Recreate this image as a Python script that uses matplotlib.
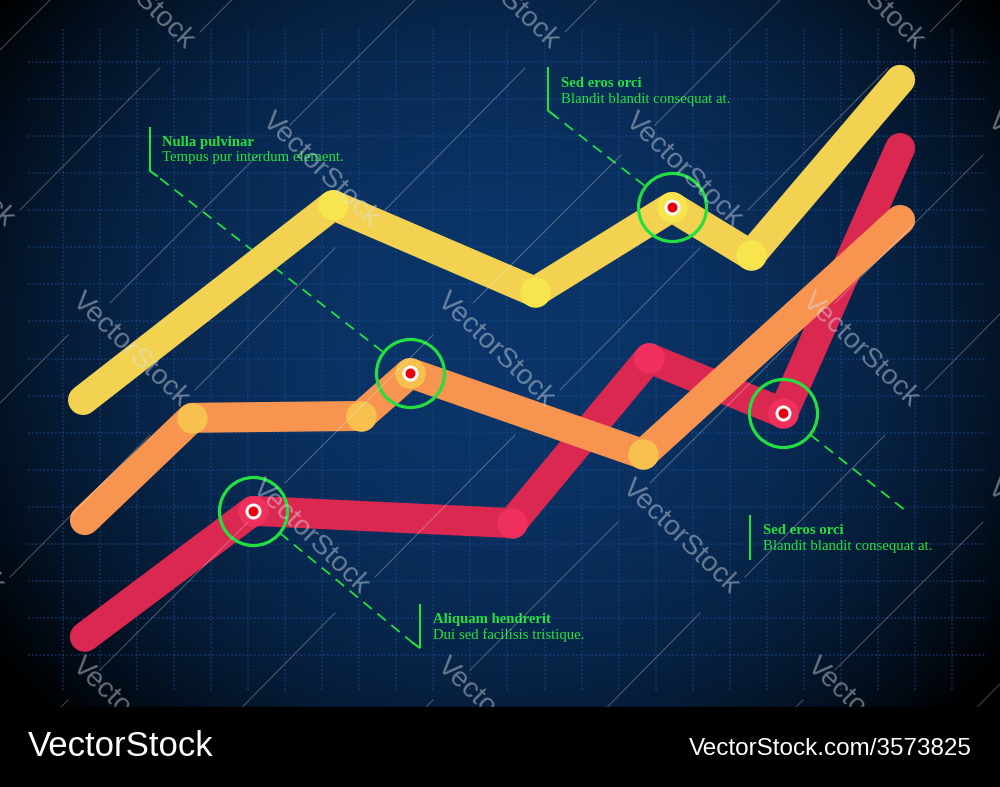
import numpy as np
import matplotlib
matplotlib.use("Agg")
import matplotlib.pyplot as plt
from matplotlib.transforms import Affine2D
from matplotlib.patches import Rectangle

W, H = 1000, 787
# grid calibration in pixels: column 0 / row 0 position and spacing
X0, DX = 63, 37.04
Y0, DY = 655, 37.06

# --- data (grid units) ---
yellow_x = [0.54, 7.29, 12.74, 16.44, 18.57, 22.60]
yellow_y = [6.88, 12.14, 9.80, 12.09, 10.79, 15.52]
orange_x = [0.59, 3.48, 8.05, 9.37, 15.66, 22.60]
orange_y = [3.64, 6.40, 6.45, 7.61, 5.42, 11.74]
red_x = [0.59, 5.13, 12.12, 15.82, 19.44, 22.60]
red_y = [0.49, 3.89, 3.56, 8.01, 6.53, 13.68]

grid_cols = np.arange(25)
grid_rows = np.arange(17)

# highlighted points + callouts
hl_x = [red_x[1], orange_x[3], yellow_x[3], red_x[4]]
hl_y = [red_y[1], orange_y[3], yellow_y[3], red_y[4]]
callout_titles = ["Aliquam hendrerit", "Nulla pulvinar", "Sed eros orci", "Sed eros orci"]
callout_texts = ["Dui sed facilisis tristique.", "Tempus pur interdum element.",
                 "Blandit blandit consequat at.", "Blandit blandit consequat at."]
# callout layout in pixels
text_pos = [(433, 623.5), (162, 146), (561, 87), (763, 534.5)]
brackets = [[(420, 605), (420, 648), (413, 643)],
            [(150, 128), (150, 171), (157, 176)],
            [(548, 68), (548, 110.5), (555, 116)],
            [(750, 516), (750, 559)]]
dash_end = [(413, 643), (157, 176), (555, 116), (906, 511)]

# watermark tile centres (pixels)
wm_x = [135, 500, 865, -45, 320, 683, 1045, 130, 495, 860, -55, 310, 680, 1045, 130, 495, 865]
wm_y = [-8, -8, -8, 170, 170, 170, 170, 350, 350, 350, 537, 537, 537, 537, 715, 715, 715]

GREEN = '#22e040'
SERIF = ['Liberation Serif', 'DejaVu Serif']
SANS = ['Liberation Sans', 'DejaVu Sans']


def to_px(x, y):
    return X0 + DX * x, Y0 - DY * y


fig = plt.figure(figsize=(10, 7.87), dpi=100)
PX = Affine2D().scale(1 / W, -1 / H).translate(0, 1) + fig.transFigure

# --- background gradient ---
bg = fig.add_axes([0, 0, 1, 1], zorder=0)
bg.set_xlim(0, W)
bg.set_ylim(H, 0)
bg.axis('off')
yy, xx = np.mgrid[0:H, 0:W]
t = np.sqrt(((xx - 500) / 620.0) ** 2 + ((yy - 330) / 560.0) ** 2)
f = np.clip(1 - t ** 2.2, 0, 1)
c0 = np.array([11, 53, 105]) / 255.0
bg.imshow(f[..., None] * c0, extent=(0, W, H, 0), aspect='auto', interpolation='bilinear')

# --- chart ---
ax = fig.add_axes([0, 0, 1, 1], zorder=1, facecolor='none')
ax.set_xlim(-X0 / DX, (W - X0) / DX)
ax.set_ylim((Y0 - H) / DY, Y0 / DY)
ax.axis('off')

ax.hlines(grid_rows, -0.95, 24.95, colors='#1b4f98', lw=1.2, linestyles=(0, (1, 1.3)), alpha=0.55, zorder=1)
ax.vlines(grid_cols, -0.95, 16.95, colors='#1b4f98', lw=1.2, linestyles=(0, (1, 1.3)), alpha=0.55, zorder=1)

LW = 21.6  # 30 px
series = [(red_x, red_y, '#da2850', '#f0305c'),
          (orange_x, orange_y, '#f7944f', '#f8c04e'),
          (yellow_x, yellow_y, '#f2d250', '#f8e44c')]
for i, (xs, ys, col, dot) in enumerate(series):
    ax.plot(xs, ys, color=col, lw=LW, solid_capstyle='round', solid_joinstyle='round', zorder=3 + i)
    ax.plot(xs[1:-1], ys[1:-1], 'o', ms=22, color=dot, mec='none', zorder=3 + i)

# highlight rings
ax.plot(hl_x, hl_y, 'o', ms=49, mfc='none', mec=GREEN, mew=2.3, zorder=8)
ax.plot(hl_x, hl_y, 'o', ms=11.5, color='white', mec='none', zorder=8)
ax.plot(hl_x, hl_y, 'o', ms=7.2, color='#e8000e', mec='none', zorder=8)

# callouts
for i in range(len(hl_x)):
    cx, cy = to_px(hl_x[i], hl_y[i])
    ex, ey = dash_end[i]
    d = np.hypot(ex - cx, ey - cy)
    sx, sy = cx + 35 * (ex - cx) / d, cy + 35 * (ey - cy) / d
    ax.plot([sx, ex], [sy, ey], color=GREEN, lw=1.3, ls=(0, (6, 4)), transform=PX, zorder=2)
    bx, by = zip(*brackets[i])
    ax.plot(bx, by, color=GREEN, lw=1.5, transform=PX, zorder=9, solid_joinstyle='miter')
    tx, ty = text_pos[i]
    ax.text(tx, ty, callout_titles[i], transform=PX, color=GREEN, fontsize=10.6,
            fontweight='bold', family=SERIF, va='baseline', ha='left', zorder=9)
    ax.text(tx, ty + 15.5, callout_texts[i], transform=PX, color=GREEN, fontsize=10.6,
            family=SERIF, va='baseline', ha='left', zorder=9)

# --- watermark + footer ---
ov = fig.add_axes([0, 0, 1, 1], zorder=2, facecolor='none')
ov.set_xlim(0, W)
ov.set_ylim(H, 0)
ov.axis('off')
for cx, cy in zip(wm_x, wm_y):
    ov.text(cx, cy, 'VectorStock', rotation=-44, rotation_mode='anchor', ha='center', va='center',
            fontsize=20.5, family=SANS, color='#dde3ec', alpha=0.45, clip_on=True)
    ov.plot([cx - 210, cx - 62], [cy + 133, cy - 15], color='white', lw=0.7, alpha=0.3)
    ov.plot([cx + 65, cx + 205], [cy + 40, cy - 102], color='white', lw=0.7, alpha=0.3)

ov.add_patch(Rectangle((0, 707), W, H - 707, color='black', zorder=5))
ov.text(28, 747, 'VectorStock', color='white', fontsize=25, family=SANS, va='center', ha='left', zorder=6)
ov.text(972, 749, 'VectorStock.com/3573825', color='white', fontsize=17.5, family=SANS,
        va='center', ha='right', zorder=6)

fig.savefig('out.png', dpi=100)
